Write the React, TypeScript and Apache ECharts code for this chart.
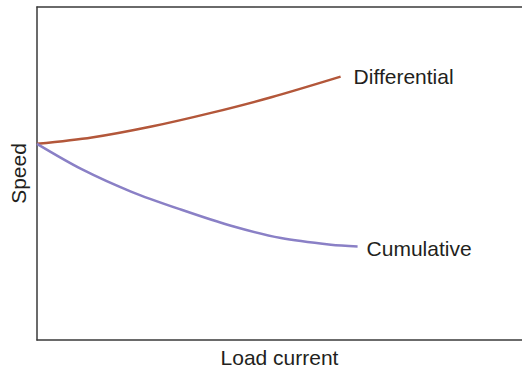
import React, { useEffect, useRef } from "react";
import * as echarts from "echarts";

const differentialX = [0, 11.3, 23.6, 35.9, 48.3, 62.6];
const differentialY = [58.9, 60.8, 64.1, 68.2, 72.9, 79.1];
const cumulativeX = [0, 9.2, 19.5, 29.8, 40.0, 50.3, 60.6, 66.1];
const cumulativeY = [58.9, 51.3, 44.5, 39.1, 34.3, 30.6, 28.6, 28.1];
const seriesNames = ["Differential", "Cumulative"];
const xAxisName = "Load current";
const yAxisName = "Speed";

export default function App() {
  const ref = useRef<HTMLDivElement>(null);
  useEffect(() => {
    if (!ref.current) return;
    const chart = echarts.init(ref.current, null, { renderer: "svg" });
    const font = "'Liberation Sans', Arial, sans-serif";
    const axisLine = { show: true, lineStyle: { color: "#3a3a3a", width: 1.5 } };
    chart.setOption({
      animation: false,
      backgroundColor: "#ffffff",
      grid: { left: 35, top: 7, right: 0, height: 338 },
      xAxis: [
        {
          type: "value",
          min: 0,
          max: 100,
          name: xAxisName,
          nameLocation: "middle",
          nameGap: 7,
          nameTextStyle: { fontFamily: font, fontSize: 21, color: "#231f20", verticalAlign: "top" },
          axisLine,
          axisTick: { show: false },
          axisLabel: { show: false },
          splitLine: { show: false },
        },
        {
          type: "value",
          position: "top",
          min: 0,
          max: 100,
          axisLine,
          axisTick: { show: false },
          axisLabel: { show: false },
          splitLine: { show: false },
        },
      ],
      yAxis: {
        type: "value",
        min: 0,
        max: 100,
        name: yAxisName,
        nameLocation: "middle",
        nameGap: 8,
        nameTextStyle: { fontFamily: font, fontSize: 21, color: "#231f20" },
        axisLine,
        axisTick: { show: false },
        axisLabel: { show: false },
        splitLine: { show: false },
      },
      series: [
        {
          name: seriesNames[0],
          type: "line",
          smooth: 0.3,
          showSymbol: false,
          data: differentialX.map((x, i) => [x, differentialY[i]]),
          lineStyle: { color: "#b3573a", width: 2.5 },
          endLabel: {
            show: true,
            formatter: "{a}",
            distance: 13,
            fontFamily: font,
            fontSize: 21,
            color: "#231f20",
          },
        },
        {
          name: seriesNames[1],
          type: "line",
          smooth: 0.3,
          showSymbol: false,
          data: cumulativeX.map((x, i) => [x, cumulativeY[i]]),
          lineStyle: { color: "#8a80c6", width: 2.5 },
          endLabel: {
            show: true,
            formatter: "{a}",
            distance: 9,
            offset: [0, 2],
            fontFamily: font,
            fontSize: 21,
            color: "#231f20",
          },
        },
      ],
    });
    return () => chart.dispose();
  }, []);
  return (
    <div
      ref={ref}
      style={{ position: "fixed", left: 0, top: 0, width: 522, height: 373, background: "#fff" }}
    />
  );
}
